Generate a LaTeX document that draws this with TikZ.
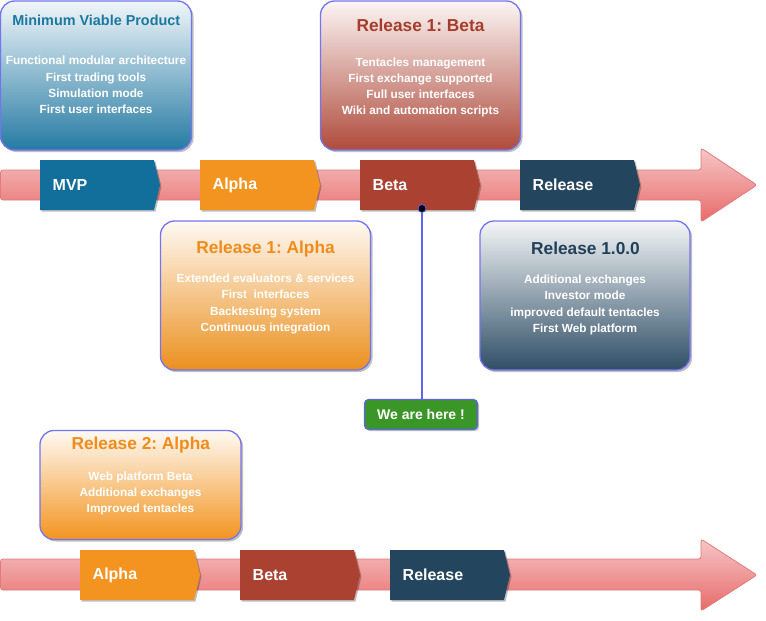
\documentclass[tikz,border=0pt]{standalone}
\usepackage{fontspec}
\setmainfont{Liberation Sans}
\frenchspacing
\usetikzlibrary{shadows}
\definecolor{mvpc}{HTML}{126F9B}
\definecolor{alphac}{HTML}{F2941F}
\definecolor{betac}{HTML}{AB4131}
\definecolor{relc}{HTML}{24455E}
\definecolor{herec}{HTML}{3A9626}
\definecolor{cardborder}{HTML}{7474EE}
\definecolor{linec}{HTML}{6262F0}
\definecolor{mvpt}{HTML}{1B78A0}
\definecolor{betat}{HTML}{A63C2C}
\definecolor{alphat}{HTML}{F08C1C}
\definecolor{relt}{HTML}{21405A}
\definecolor{arrtop}{HTML}{F6C6C6}
\definecolor{arrbot}{HTML}{E86A6A}
\definecolor{arrline}{HTML}{E07C7C}
\newcommand\mychev[5]{%
  \path[chevshape, fill=#3] (#1,#2-25) -- (#1+114,#2-25) -- (#1+120,#2) -- (#1+114,#2+25) -- (#1,#2+25) -- cycle;
  \node[chevtext, anchor=west] (#4) at (#1+12.5,#2) {#5};}
\begin{document}
\begin{tikzpicture}[x=1pt,y=-1pt,
  arrowbar/.style={draw=arrline, line width=0.8pt, top color=arrtop, bottom color=arrbot, rounded corners=2.5pt},
  chevshape/.style={drop shadow={shadow xshift=1.5pt, shadow yshift=-1.5pt, opacity=0.25, fill=black}},
  chevtext/.style={text=white, font={\fontsize{16}{18}\selectfont\bfseries}, inner sep=0pt},
  card/.style={draw=cardborder, line width=1.3pt, rounded corners=14pt, inner sep=0pt,
    drop shadow={shadow xshift=2pt, shadow yshift=-2pt, opacity=0.25, fill=black}},
  cardtitle/.style={font={\fontsize{17.3}{19}\selectfont\bfseries}, inner sep=0pt},
  carditems/.style={text=white, align=center, font={\fontsize{11.8}{16.2}\selectfont\bfseries}, inner sep=0pt},
  herebox/.style={draw=linec, line width=1.2pt, fill=herec, rounded corners=4pt, text=white,
    minimum width=113, minimum height=30, font={\fontsize{14}{16}\selectfont\bfseries},
    drop shadow={shadow xshift=1.5pt, shadow yshift=-1.5pt, opacity=0.25, fill=black}},
  connector/.style={draw=linec, line width=1.2pt}
]
\useasboundingbox (0,0) rectangle (766,621);

% ---------- top timeline ----------
\path[arrowbar] (0.5,170) -- (701,170) -- (701,148) -- (757,185) -- (701,222) -- (701,200) -- (0.5,200) -- cycle;
\mychev{40}{185}{mvpc}{mvp}{MVP}
\mychev{200}{185}{alphac}{alpha}{Alpha}
\mychev{360}{185}{betac}{beta}{Beta}
\mychev{520}{185}{relc}{release}{Release}

% ---------- bottom timeline ----------
\path[arrowbar] (0.5,559) -- (701,559) -- (701,539) -- (757,575) -- (701,611) -- (701,590) -- (0.5,590) -- cycle;
\mychev{80}{575}{alphac}{alphab}{Alpha}
\mychev{240}{575}{betac}{betab}{Beta}
\mychev{390}{575}{relc}{releaseb}{Release}

% ---------- cards ----------
\node[card, top color=mvpc!6, bottom color=mvpc!92!white, minimum width=191, minimum height=149] (mvpbox) at (96,75.5) {};
\node[cardtitle, text=mvpt, font={\fontsize{14.4}{16}\selectfont\bfseries}] (mvptitle) at (96.3,20) {Minimum Viable Product};
\node[carditems] (mvpitems) at (96,85) {Functional modular architecture\\First trading tools\\Simulation mode\\First user interfaces};

\node[card, top color=betac!5, bottom color=betac!95!white, minimum width=200, minimum height=149] (betabox) at (420.5,75.5) {};
\node[cardtitle, text=betat] (betatitle) at (420.5,25) {Release 1: Beta};
\node[carditems] (betaitems) at (420.5,87.5) {Tentacles management\\First exchange supported\\Full user interfaces\\Wiki and automation scripts};

\node[card, top color=alphac!5, bottom color=alphac!97!black, minimum width=210, minimum height=149] (alphabox) at (265.5,295.5) {};
\node[cardtitle, text=alphat] (alphatitle) at (265.5,249) {Release 1: Alpha};
\node[carditems] (alphaitems) at (265.5,304) {Extended evaluators \& services\\First\ \ interfaces\\Backtesting system\\Continuous integration};

\node[card, top color=relc!5, bottom color=relc!95!white, minimum width=210, minimum height=149] (relbox) at (585,295.5) {};
\node[cardtitle, text=relt] (reltitle) at (585.5,248) {Release 1.0.0};
\node[carditems] (relitems) at (585,305) {Additional exchanges\\Investor mode\\improved default tentacles\\First Web platform};

\node[card, top color=alphac!5, bottom color=alphac, minimum width=201, minimum height=109] (alpha2box) at (140.5,485) {};
\node[cardtitle, text=alphat] (alpha2title) at (140.8,445.5) {Release 2: Alpha};
\node[carditems] (alpha2items) at (140.5,493.3) {Web platform Beta\\Additional exchanges\\Improved tentacles};

% ---------- we are here ----------
\node[herebox] (here) at (421,414.5) {We are here !};
\node[circle, fill=black, draw=linec, line width=0.8pt, inner sep=0pt, minimum size=8] (dot) at (422,208.5) {};
\draw[connector] (dot.south) -- (dot.south |- here.north);
\end{tikzpicture}
\end{document}
